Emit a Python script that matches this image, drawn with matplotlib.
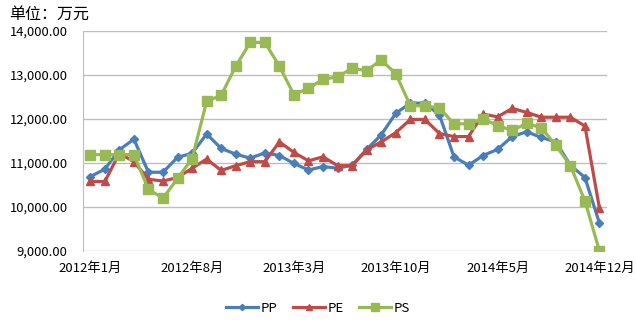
import numpy as np
import matplotlib
matplotlib.use("Agg")
import matplotlib.pyplot as plt

plt.rcParams['font.family'] = ['Noto Sans CJK SC', 'DejaVu Sans']

# monthly, 2012-01 .. 2014-12
months = [f"{y}年{m}月" for y in (2012, 2013, 2014) for m in range(1, 13)]

pp = [10690, 10860, 11300, 11540, 10790, 10790, 11130, 11220, 11660, 11330,
      11200, 11110, 11230, 11170, 10990, 10840, 10920, 10880, 10950, 11310,
      11640, 12130, 12360, 12360, 12090, 11140, 10950, 11170, 11310, 11600,
      11710, 11580, 11480, 10950, 10670, 9630]
pe = [10580, 10580, 11220, 11030, 10630, 10590, 10670, 10880, 11090, 10830,
      10940, 11030, 11030, 11480, 11240, 11050, 11140, 10940, 10940, 11300,
      11480, 11690, 11990, 11990, 11670, 11600, 11600, 12110, 12050, 12240,
      12150, 12040, 12040, 12040, 11840, 9970]
ps = [11190, 11190, 11190, 11190, 10400, 10200, 10650, 11100, 12400, 12540,
      13200, 13740, 13740, 13200, 12550, 12700, 12900, 12960, 13150, 13100,
      13340, 13030, 12300, 12300, 12250, 11890, 11890, 12000, 11850, 11740,
      11900, 11800, 11400, 10940, 10140, 9000]

x = np.arange(len(months))

fig = plt.figure(figsize=(6.36, 3.26), dpi=100)
ax = fig.add_axes([0.1305, 0.230, 0.8235, 0.675])

ax.plot(x, pp, color='#4A7EBB', lw=2.3, marker='D', ms=4, label='PP')
ax.plot(x, pe, color='#BE4B48', lw=2.3, marker='^', ms=6, label='PE')
ax.plot(x, ps, color='#98B954', lw=2.3, marker='s', ms=7, label='PS')

ax.set_xlim(-0.5, len(months) - 0.5)
ax.set_ylim(9000, 14000)
ax.set_yticks(np.arange(9000, 14001, 1000))
ax.set_yticklabels([f"{v:,.2f}" for v in range(9000, 14001, 1000)], fontsize=9.3)
ax.set_xticks(x[::7])
ax.set_xticklabels(months[::7], fontsize=9.5)
ax.tick_params(axis='y', length=0, pad=11)
ax.tick_params(axis='x', length=0, pad=8)
ax.yaxis.grid(True, color='#BEBEBE', lw=1)
ax.set_axisbelow(True)
for s in ['top', 'right', 'bottom']:
    ax.spines[s].set_visible(False)
ax.spines['left'].set_color('#BEBEBE')

fig.text(0.015, 0.955, '单位：万元', fontsize=11.5, va='center')

fig.legend(loc='center', bbox_to_anchor=(0.5, 0.055), ncol=3, frameon=False,
           fontsize=9.5, handlelength=2.4, columnspacing=1.2, handletextpad=0.2,
           markerscale=0.8)

fig.savefig('out.png', dpi=100)
